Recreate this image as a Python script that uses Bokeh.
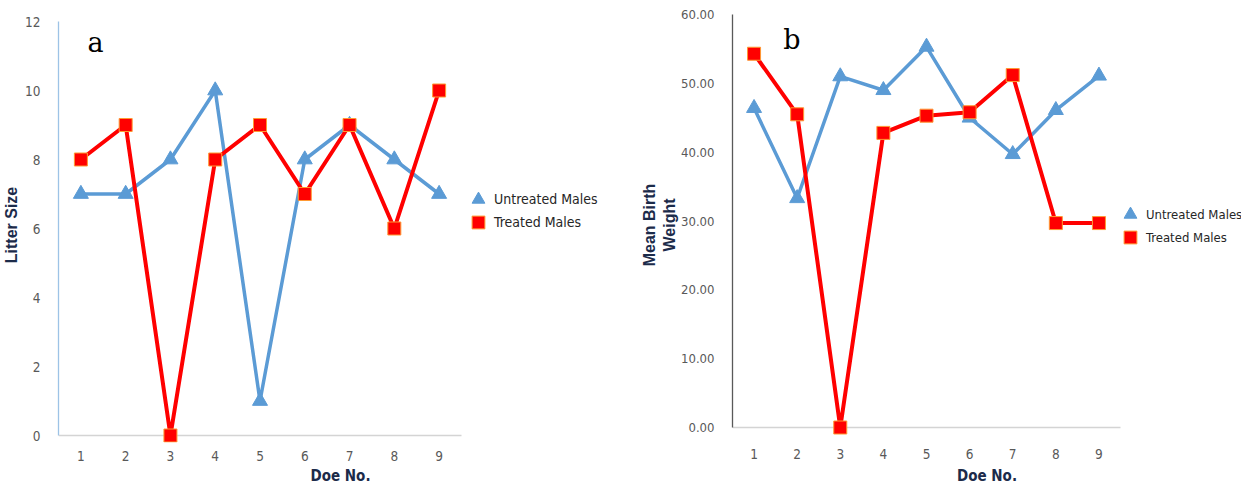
from bokeh.plotting import figure
from bokeh.layouts import row
from bokeh.models import Range1d, FixedTicker, PrintfTickFormatter, Label, Legend, LegendItem
from bokeh.embed import file_html
from bokeh.resources import INLINE

# ---- data ----
doe = [1, 2, 3, 4, 5, 6, 7, 8, 9]
litter_untreated = [7, 7, 8, 10, 1, 8, 9, 8, 7]
litter_treated = [8, 9, 0, 8, 9, 7, 9, 6, 10]
weight_untreated = [46.4, 33.3, 51.0, 49.0, 55.3, 45.0, 39.7, 46.1, 51.1]
weight_treated = [54.3, 45.5, 0.0, 42.8, 45.3, 45.8, 51.2, 29.7, 29.7]
litter_ticks = [0, 2, 4, 6, 8, 10, 12]
weight_ticks = [0, 10, 20, 30, 40, 50, 60]
series_names = ["Untreated Males", "Treated Males"]

BLUE = "#5B9BD5"
RED = "#FF0000"
NARROW = "'DejaVu Sans Condensed', 'Roboto Condensed', 'Liberation Sans Narrow', Roboto"

FRAME_H = 435
TOP, BOTTOM = 7, 38
X_LO, X_HI = 0.5, 9.5


def panel(untreated, treated, yticks, yfmt, ylabel, letter, width, left, right, plot_w,
          pad_top, yaxis_color, letter_pos, legend_pos, legend_font,
          ylabel_standoff, xtick_standoff, xlabel_standoff, ytick_font):
    frame_w = width - left - right
    plot_h = 414 if yticks[-1] < 20 else 413
    pad_bottom = FRAME_H - pad_top - plot_h
    upp_y = (yticks[-1] - yticks[0]) / plot_h
    upp_x = (X_HI - X_LO) / plot_w
    p = figure(frame_width=frame_w, frame_height=FRAME_H, output_backend="svg",
               toolbar_location=None,
               x_range=Range1d(X_LO, X_LO + frame_w * upp_x),
               y_range=Range1d(yticks[0] - pad_bottom * upp_y, yticks[-1] + pad_top * upp_y),
               min_border_left=left, min_border_right=right,
               min_border_top=TOP, min_border_bottom=BOTTOM)
    p.outline_line_color = None
    p.xgrid.grid_line_color = None
    p.ygrid.grid_line_color = None
    p.background_fill_color = "white"
    p.border_fill_color = "white"

    # x axis
    xa = p.xaxis[0]
    xa.ticker = FixedTicker(ticks=doe)
    xa.axis_line_color = None
    xa.major_tick_line_color = None
    xa.minor_tick_line_color = None
    xa.major_label_standoff = xtick_standoff
    xa.major_label_text_font = NARROW
    xa.major_label_text_font_size = "13.5px"
    xa.major_label_text_color = "#595959"
    xa.axis_label = "Doe No."
    xa.axis_label_standoff = xlabel_standoff
    xa.axis_label_text_font = NARROW
    xa.axis_label_text_font_style = "bold"
    xa.axis_label_text_font_size = "15px"
    xa.axis_label_text_color = "#1c2b4a"

    # y axis
    ya = p.yaxis[0]
    ya.ticker = FixedTicker(ticks=yticks)
    ya.formatter = PrintfTickFormatter(format=yfmt)
    ya.bounds = (yticks[0], yticks[-1])
    ya.axis_line_color = yaxis_color
    ya.axis_line_width = 1.3
    ya.major_tick_line_color = None
    ya.minor_tick_line_color = None
    ya.major_label_standoff = 12
    ya.major_label_text_font = NARROW
    ya.major_label_text_font_size = ytick_font
    ya.major_label_text_color = "#595959"
    ya.axis_label = ylabel
    ya.axis_label_text_font = "Liberation Sans"
    ya.axis_label_text_font_style = "bold"
    ya.axis_label_text_font_size = "16px"
    ya.axis_label_text_color = "#1c2b4a"
    ya.axis_label_standoff = ylabel_standoff

    # x axis baseline at y = 0 spanning the category range
    p.segment(x0=[X_LO], y0=[yticks[0]], x1=[X_HI], y1=[yticks[0]],
              line_color="#d4d4d4", line_width=1.5)

    # series
    p.line(doe, untreated, line_color=BLUE, line_width=3.5)
    r_u = p.scatter(doe, untreated, marker="triangle", size=15,
                    fill_color=BLUE, line_color=BLUE)
    p.line(doe, treated, line_color=RED, line_width=4)
    r_t = p.scatter(doe, treated, marker="square", size=13,
                    fill_color=RED, line_color="#FF9933", line_width=1)

    # legend (markers only), one box per row so the rows sit close together
    for (lx, ly), name, rend in zip(legend_pos, series_names, [r_u, r_t]):
        lg = Legend(items=[LegendItem(label=name, renderers=[rend])],
                    location=(lx, ly), glyph_width=32, glyph_height=32,
                    label_standoff=-4, padding=0, margin=0, spacing=0,
                    border_line_color=None, background_fill_alpha=0,
                    label_text_font=NARROW, label_text_font_size=legend_font,
                    label_text_color="#262626", label_text_baseline="middle")
        p.add_layout(lg, "center")

    # panel letter
    p.add_layout(Label(x=letter_pos[0], y=letter_pos[1], text=letter,
                       text_font="DejaVu Serif", text_font_size="27px",
                       text_color="black", text_align="left", text_baseline="middle"))
    return p


pa = panel(litter_untreated, litter_treated, litter_ticks, "%d", "Litter Size", "a",
           616, 50, 2, 403, 14, "#9DC3E6", (1.15, 11.4),
           [(404, 227), (404, 204)], "14px", 2, 2, 3, "13.5px")
pb = panel(weight_untreated, weight_treated, weight_ticks, "%.2f", "Mean Birth\nWeight", "b",
           617, 108, 0, 388, 7, "#595959", (1.68, 56.4),
           [(382, 212), (382, 189)], "13px", 0, 0, 5, "13px")

layout = row(pa, pb)
open("out.html", "w").write(file_html(layout, INLINE))
